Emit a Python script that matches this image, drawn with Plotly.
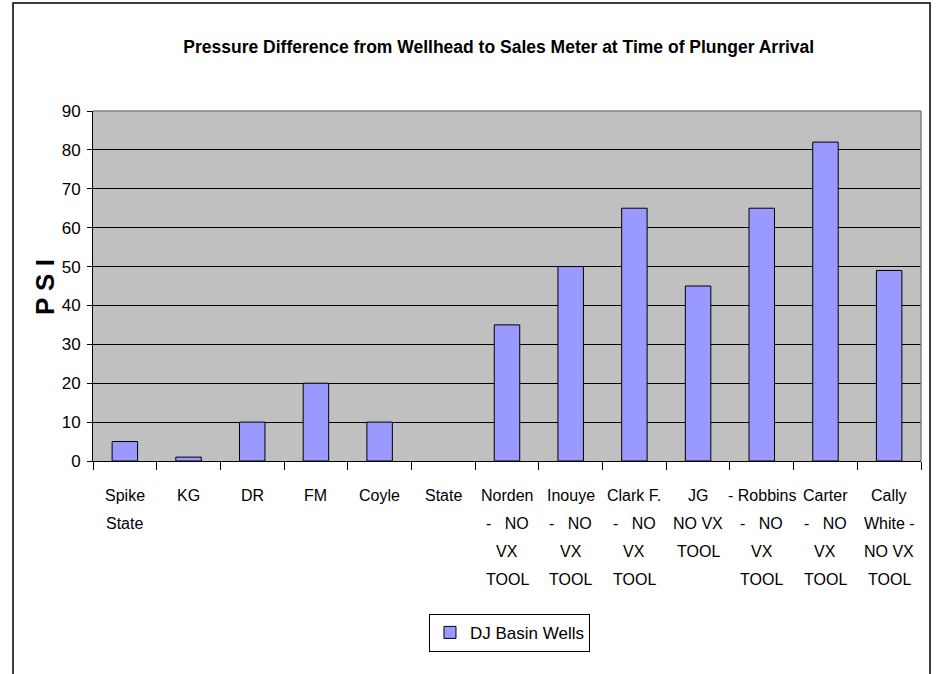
import plotly.graph_objects as go

categories = ["Spike<br>State", "KG", "DR", "FM", "Coyle", "State",
              "Norden<br>-   NO<br>VX<br>TOOL", "Inouye<br>-   NO<br>VX<br>TOOL",
              "Clark F.<br>-   NO<br>VX<br>TOOL", "JG<br>NO VX<br>TOOL",
              "- Robbins<br>-   NO<br>VX<br>TOOL", "Carter<br>-   NO<br>VX<br>TOOL",
              "Cally<br>White -<br>NO VX<br>TOOL"]
values = [5, 1, 10, 20, 10, 0, 35, 50, 65, 45, 65, 82, 49]
series_name = "DJ Basin Wells"
title_text = "Pressure Difference from Wellhead to Sales Meter at Time of Plunger Arrival"
y_title = "P S I"

FONT = "Liberation Sans, Arial, sans-serif"

fig = go.Figure()
fig.add_trace(go.Bar(
    x=categories, y=values, name=series_name,
    marker=dict(color="#9999FF",
                line=dict(color="black", width=[0 if v == 0 else 1 for v in values])),
    width=0.4, showlegend=True,
))

# category labels drawn line by line (Excel-like wide line spacing)
label_annotations = []
for cat in categories:
    for i, line in enumerate(cat.split("<br>")):
        label_annotations.append(dict(
            text=line.replace("   ", "\u00a0\u00a0\u00a0"), x=cat, xref="x", yref="paper", y=0,
            yanchor="middle", xanchor="center", yshift=-(34 + 28 * i),
            showarrow=False, font=dict(family=FONT, size=16, color="black")))

fig.update_layout(
    width=936, height=674,
    margin=dict(l=93, r=15, t=111, b=213),
    paper_bgcolor="white", plot_bgcolor="#C0C0C0",
    font=dict(family=FONT, color="black", size=16),
    title=dict(text="<b>" + title_text + "</b>", x=0.49, xanchor="center",
               xref="paper",
               y=1 - 47 / 674, yanchor="middle",
               font=dict(family=FONT, size=17.5, color="black")),
    bargap=0.6,
    showlegend=True,
    legend=dict(x=0.503, y=-0.491, xanchor="center", yanchor="middle",
                bordercolor="black", borderwidth=1, bgcolor="white",
                font=dict(family=FONT, size=17)),
    xaxis=dict(type="category", tickson="boundaries", ticks="outside", ticklen=8,
               tickcolor="black", showline=True, linecolor="black", linewidth=1,
               showgrid=False, showticklabels=False),
    yaxis=dict(range=[0, 90], dtick=10, ticks="outside", ticklen=5, tickcolor="black",
               showline=True, linecolor="black", linewidth=1, gridcolor="black",
               gridwidth=1, zeroline=False, tickfont=dict(family=FONT, size=17),
               ticklabelstandoff=3),
    shapes=[
        dict(type="line", xref="paper", yref="paper", x0=0, x1=1, y0=1, y1=1,
             line=dict(color="#808080", width=1.5), layer="above"),
        dict(type="line", xref="paper", yref="paper", x0=1, x1=1, y0=0, y1=1,
             line=dict(color="#808080", width=1.5), layer="above"),
        dict(type="rect", xref="paper", yref="paper", x0=-0.0966, x1=1.0109,
             y0=-0.64, y1=1.3086, line=dict(color="black", width=1.5), layer="above"),
    ],
    annotations=[
        dict(text="<b>" + y_title + "</b>", xref="paper", yref="paper",
             x=-0.058, y=0.497, xanchor="center", yanchor="middle",
             textangle=-90, showarrow=False,
             font=dict(family=FONT, size=26, color="black")),
    ] + label_annotations,
)

fig.write_html("out.html", config={"displayModeBar": False},
               post_script="document.body.style.margin='0';")
